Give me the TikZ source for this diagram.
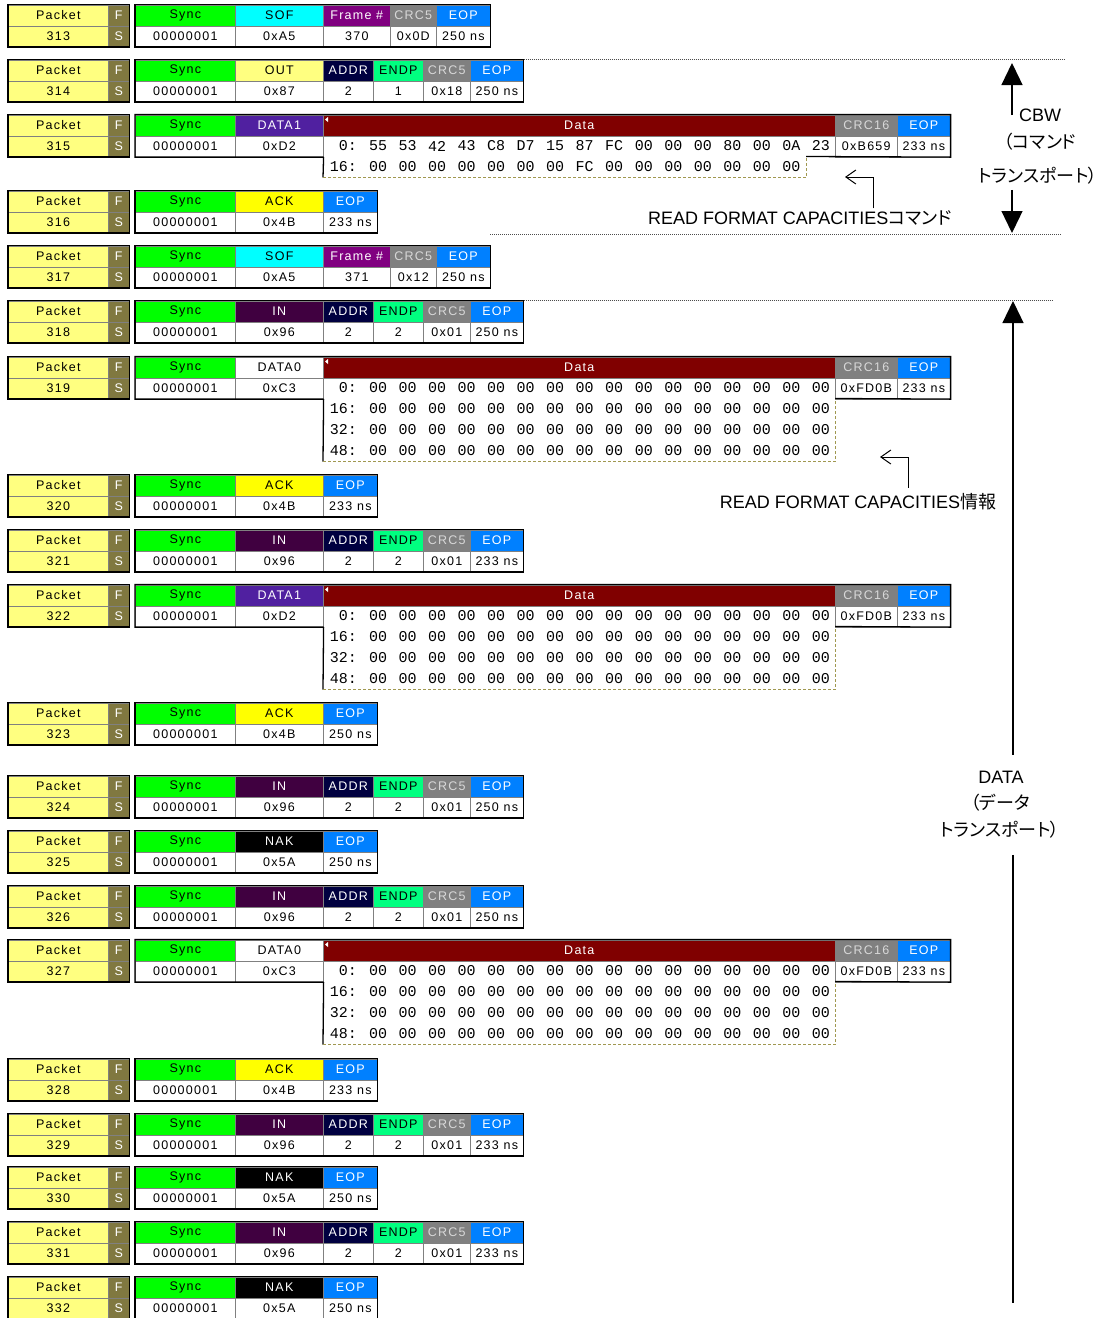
\documentclass[tikz,border=0pt]{standalone}
\usepackage{fontspec}
\setmainfont{Liberation Sans}
\newfontfamily\lblfont[LetterSpace=10]{Liberation Sans}
\newfontfamily\hexfont{Liberation Mono}
\newfontfamily\cjk[RawFeature=+palt]{Noto Sans CJK JP}
\usetikzlibrary{arrows.meta}

\definecolor{pktyellow}{HTML}{FFFF80}
\definecolor{fsolive}{HTML}{807840}
\definecolor{syncgreen}{HTML}{00FF00}
\definecolor{sofcyan}{HTML}{00FFFF}
\definecolor{framepurple}{HTML}{800080}
\definecolor{crcgray}{HTML}{808080}
\definecolor{crctext}{HTML}{D8D8D8}
\definecolor{eopblue}{HTML}{0080FF}
\definecolor{addrnavy}{HTML}{000040}
\definecolor{endpgreen}{HTML}{00FF80}
\definecolor{dataviolet}{HTML}{5020A0}
\definecolor{datared}{HTML}{800000}
\definecolor{ackyellow}{HTML}{FFFF00}
\definecolor{inpurple}{HTML}{400040}
\definecolor{dasholive}{HTML}{A09850}

% packet number block + sync field
\newcommand{\pktno}[2]{%
	\node[cell, fill=pktyellow, minimum width=100pt] (pk#2) at (8,#1) {Packet};
	\node[cell, fill=pktyellow, minimum width=100pt] (pn#2) at (8,#1+21) {#2};
	\node[cell, fill=fsolive, text=white, minimum width=21pt] (pf#2) at (108,#1) {F};
	\node[cell, fill=fsolive, text=white, minimum width=21pt] (ps#2) at (108,#1+21) {S};
	\draw[pktframe] (pk#2.north west) rectangle (ps#2.south east);
	\node[cell, fill=syncgreen, minimum width=100pt] (sy#2) at (135,#1) {Sync};
	\node[cell, fill=white, minimum width=100pt] (sv#2) at (135,#1+21) {00000001};
}
% one field: name, x, top, width, style, label, value
\newcommand{\fld}[7]{%
	\node[cell, #5, minimum width=#4pt] (#1) at (#2,#3) {#6};
	\node[cell, fill=white, minimum width=#4pt] (#1v) at (#2,#3+21) {#7};
}
\newcommand{\sofpkt}[5]{%
	\pktno{#1}{#2}
	\fld{pid#2}{235}{#1}{88}{sofstyle}{SOF}{0xA5}
	\fld{fr#2}{323}{#1}{67}{framestyle}{Frame \#}{#3}
	\fld{crc#2}{390}{#1}{46}{crcstyle}{CRC5}{#4}
	\fld{eop#2}{436}{#1}{54}{eopstyle}{EOP}{#5}
	\draw[pktframe] (sy#2.north west) rectangle (eop#2v.south east);
}
\newcommand{\tokpkt}[8]{%
	\pktno{#1}{#2}
	\fld{pid#2}{235}{#1}{88}{#4}{#3}{#5}
	\fld{ad#2}{323}{#1}{50}{addrstyle}{ADDR}{2}
	\fld{ep#2}{373}{#1}{50}{endpstyle}{ENDP}{#6}
	\fld{crc#2}{423}{#1}{47}{crcstyle}{CRC5}{#7}
	\fld{eop#2}{470}{#1}{53}{eopstyle}{EOP}{#8}
	\draw[pktframe] (sy#2.north west) rectangle (eop#2v.south east);
}
\newcommand{\hskpkt}[6]{%
	\pktno{#1}{#2}
	\fld{pid#2}{235}{#1}{88}{#4}{#3}{#5}
	\fld{eop#2}{323}{#1}{54}{eopstyle}{EOP}{#6}
	\draw[pktframe] (sy#2.north west) rectangle (eop#2v.south east);
}
\newcommand{\datpkt}[9]{%
	\pktno{#1}{#2}
	\fld{pid#2}{235}{#1}{88}{#4}{#3}{#5}
	\node[cell, datastyle, minimum width=512pt] (dt#2) at (323,#1) {Data};
	\fill[white] (dt#2.north west) ++(2,5) -- ++(3,-2.5) -- ++(0,5) -- cycle;
	\fld{crc#2}{835}{#1}{62}{crcstyle}{CRC16}{#6}
	\fld{eop#2}{897}{#1}{53}{eopstyle}{EOP}{#7}
	\draw[pktframe] (pid#2v.south east) -- (sv#2.south west) -- (sy#2.north west) -- (eop#2.north east) -- (eop#2v.south east) -- (#9,#1+42);
	\draw[pktframe] (pid#2v.south east) -- (323,#8);
	\draw[edgedash] (323,#8) -- (#9,#8) -- (#9,#1+42);
}
\newcommand{\hexrow}[4]{%
	\node[hexlbl] (#1o) at (357,#2) {#3:};
	\foreach \b [count=\k from 0] in {#4} {\node[hexbyte] (#1b\k) at (378+29.53*\k,#2) {\b};}
}
\newcommand{\zerorows}[2]{%
	\foreach \r [count=\q from 0] in {0,16,32,48} {
		\node[hexlbl] (z#1o\q) at (357,#2+21*\q) {\r:};
		\foreach \k in {0,...,15} {\node[hexbyte] (z#1r\q-\k) at (378+29.53*\k,#2+21*\q) {00};}
	}
}

\begin{document}
\begin{tikzpicture}[x=1pt, y=-1pt,
	cell/.style={draw=black!50, line width=0.6pt, anchor=north west, minimum height=21pt, inner sep=0pt, font=\lblfont\fontsize{12.5}{12.5}\selectfont},
	pktframe/.style={line width=1.3pt, black},
	edgedash/.style={dasholive, line width=1pt, dash pattern=on 3pt off 2pt},
	hexlbl/.style={anchor=east, inner sep=0pt, font=\hexfont\fontsize{15}{15}\selectfont},
	hexbyte/.style={inner sep=0pt, font=\hexfont\fontsize{15}{15}\selectfont},
	sofstyle/.style={fill=sofcyan},
	framestyle/.style={fill=framepurple, text=white},
	crcstyle/.style={fill=crcgray, text=crctext},
	eopstyle/.style={fill=eopblue, text=white},
	addrstyle/.style={fill=addrnavy, text=white},
	endpstyle/.style={fill=endpgreen},
	outstyle/.style={fill=pktyellow},
	instyle/.style={fill=inpurple, text=white},
	nakstyle/.style={fill=black, text=white},
	ackstyle/.style={fill=ackyellow},
	d1style/.style={fill=dataviolet, text=white},
	d0style/.style={fill=white},
	datastyle/.style={fill=datared, text=white},
	sepline/.style={black!70, line width=0.8pt, dash pattern=on 1pt off 1pt},
	note/.style={inner sep=1pt, font=\fontsize{18}{21}\selectfont},
	bigarrow/.style={line width=1.3pt, -{Triangle[length=22pt, width=21pt]}},
	openarrow/.style={line width=1pt, -{Straight Barb[length=10pt, width=14pt]}}]
	\useasboundingbox (0,0) rectangle (1106,1318);

	\sofpkt{4.5}{313}{370}{0x0D}{250 ns}
	\tokpkt{59.5}{314}{OUT}{outstyle}{0x87}{1}{0x18}{250 ns}
	\datpkt{114.5}{315}{DATA1}{d1style}{0xD2}{0xB659}{233 ns}{177.5}{806}
	\hexrow{r315a}{146}{0}{55,53,42,43,C8,D7,15,87,FC,00,00,00,80,00,0A,23}
	\hexrow{r315b}{167}{16}{00,00,00,00,00,00,00,FC,00,00,00,00,00,00,00}
	\hskpkt{190.5}{316}{ACK}{ackstyle}{0x4B}{233 ns}
	\sofpkt{245.5}{317}{371}{0x12}{250 ns}
	\tokpkt{300.5}{318}{IN}{instyle}{0x96}{2}{0x01}{250 ns}
	\datpkt{356.5}{319}{DATA0}{d0style}{0xC3}{0xFD0B}{233 ns}{461.5}{835}
	\zerorows{319}{388}
	\hskpkt{474.5}{320}{ACK}{ackstyle}{0x4B}{233 ns}
	\tokpkt{529.5}{321}{IN}{instyle}{0x96}{2}{0x01}{233 ns}
	\datpkt{584.5}{322}{DATA1}{d1style}{0xD2}{0xFD0B}{233 ns}{689.5}{835}
	\zerorows{322}{616}
	\hskpkt{702.5}{323}{ACK}{ackstyle}{0x4B}{250 ns}
	\tokpkt{775.5}{324}{IN}{instyle}{0x96}{2}{0x01}{250 ns}
	\hskpkt{830.5}{325}{NAK}{nakstyle}{0x5A}{250 ns}
	\tokpkt{885.5}{326}{IN}{instyle}{0x96}{2}{0x01}{250 ns}
	\datpkt{939.5}{327}{DATA0}{d0style}{0xC3}{0xFD0B}{233 ns}{1044.5}{835}
	\zerorows{327}{971}
	\hskpkt{1058.5}{328}{ACK}{ackstyle}{0x4B}{233 ns}
	\tokpkt{1113.5}{329}{IN}{instyle}{0x96}{2}{0x01}{233 ns}
	\hskpkt{1166.5}{330}{NAK}{nakstyle}{0x5A}{250 ns}
	\tokpkt{1221.5}{331}{IN}{instyle}{0x96}{2}{0x01}{233 ns}
	\hskpkt{1276.5}{332}{NAK}{nakstyle}{0x5A}{250 ns}

	% transport boundaries
	\draw[sepline] (eop314.north east) -- (1065,59.5);
	\draw[sepline] (490,234) -- (1062,234);
	\draw[sepline] (eop318.north east) -- (1052,300.5);

	% CBW
	\node[note] (cbw) at (1040,115) {CBW};
	\node[note] (cbw2) at (1040,142) {\cjk （コマンド};
	\node[note] (cbw3) at (1038,176) {\cjk トランスポート）};
	\coordinate (cbwtop) at (1012,63);
	\coordinate (cbwbot) at (1012,233);
	\draw[bigarrow] (cbwtop |- cbw.center) -- (cbwtop);
	\draw[bigarrow] ([yshift=-4pt]cbw3.south -| cbwbot) -- (cbwbot);

	% DATA
	\node[note] (dat) at (1001,777) {DATA};
	\node[note] (dat2) at (1000,803) {\cjk （データ};
	\node[note] (dat3) at (1000,830) {\cjk トランスポート）};
	\coordinate (dattop) at (1013,301);
	\coordinate (datbot) at (1013,1303);
	\draw[bigarrow] ([yshift=15pt]dat.north -| dattop) -- (dattop);
	\draw[line width=1.3pt] ([yshift=-15pt]dat3.south -| datbot) -- (datbot);

	% command / data notes
	\node[note] (cmdnote) at (800,218) {READ FORMAT CAPACITIES{\cjk コマンド}};
	\coordinate (cmdtip) at (845,177);
	\coordinate (cmdbend) at (873,177);
	\draw[openarrow] ([yshift=1pt]cmdbend |- cmdnote.north) -- (cmdbend) -- (cmdtip);
	\node[note] (infonote) at (858,502) {READ FORMAT CAPACITIES{\cjk 情報}};
	\coordinate (infotip) at (880,457);
	\coordinate (infobend) at (908,457);
	\draw[openarrow] ([yshift=5pt]infobend |- infonote.north) -- (infobend) -- (infotip);
\end{tikzpicture}
\end{document}
